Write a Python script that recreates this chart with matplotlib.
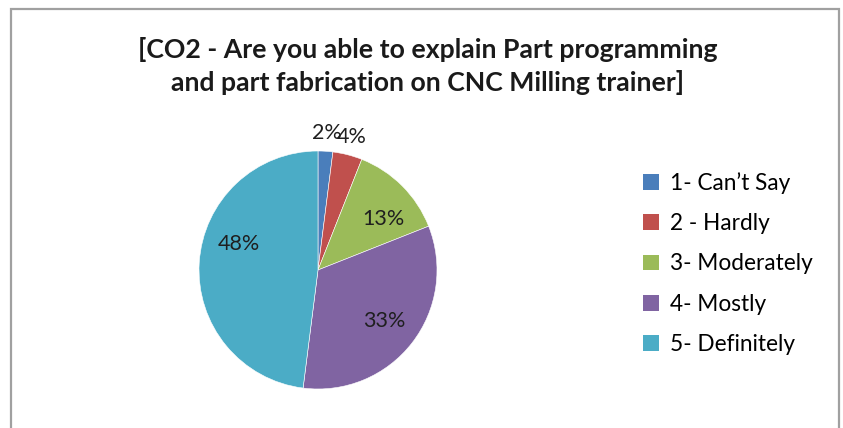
import matplotlib.pyplot as plt
from matplotlib.patches import Rectangle
import numpy as np

plt.rcParams['font.family'] = ['Lato', 'DejaVu Sans']

# data
categories = ["1- Can\u2019t Say", "2 - Hardly", "3- Moderately", "4- Mostly", "5- Definitely"]
values = [2, 4, 13, 33, 48]
colors = ['#4A7EBB', '#C0504D', '#9BBB59', '#8064A2', '#4BACC6']
title = "[CO2 - Are you able to explain Part programming\nand part fabrication on CNC Milling trainer]"

W, H = 843, 428
fig = plt.figure(figsize=(W / 100, H / 100), dpi=100, facecolor='white')

# chart frame (bottom edge is cut off in the reference)
fig.patches.append(Rectangle((11 / W, -0.05), (839 - 11) / W, (H - 9) / H + 0.05,
                             transform=fig.transFigure, fill=False,
                             edgecolor='#a0a0a0', linewidth=1.6))

fig.text(428 / W, 1 - 66 / H, title, ha='center', va='center', fontsize=19.2,
         fontweight='bold', color='#1a1a1a', linespacing=1.35)

# pie axes: centre (318, 270), radius 119 px
cx, cy, r = 318, 270, 119
ax = fig.add_axes([(cx - r) / W, (H - cy - r) / H, 2 * r / W, 2 * r / H])
wedges, texts, autotexts = ax.pie(values, colors=colors, startangle=90, counterclock=False,
                                  autopct='%d%%', pctdistance=0.7,
                                  wedgeprops=dict(edgecolor='white', linewidth=0.4),
                                  textprops=dict(fontsize=15.5, color='#1f1f1f'))
ax.set_xlim(-1, 1)
ax.set_ylim(-1, 1)

# label placement: small slices outside (as Excel does), others "best fit"
for w, t in zip(wedges, autotexts):
    share = (w.theta2 - w.theta1) / 360
    mid = np.deg2rad((w.theta1 + w.theta2) / 2)
    if share < 0.05:
        t.set_position((1.15 * np.cos(mid), 1.15 * np.sin(mid)))
    elif share > 0.4:
        t.set_position((0.7 * np.cos(mid - 0.25), 0.7 * np.sin(mid - 0.25)))
    elif share < 0.2:
        t.set_position((0.7 * np.cos(mid - 0.12), 0.7 * np.sin(mid - 0.12)))

handles = [Rectangle((0, 0), 1, 1, facecolor=c) for c in colors]
fig.legend(handles, categories, loc='upper left', bbox_to_anchor=(634 / W, 1 - 163 / H),
           frameon=False, fontsize=16.3, handlelength=0.7, handleheight=0.7,
           handletextpad=0.5, labelspacing=0.85, borderaxespad=0)

fig.savefig('out.png', dpi=100, facecolor='white')
